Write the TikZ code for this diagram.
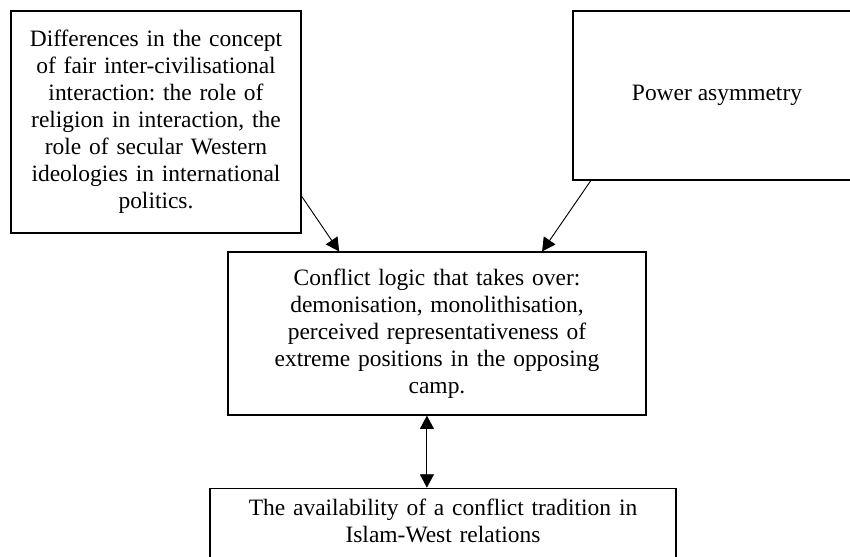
\documentclass[tikz,border=0pt]{standalone}
\usepackage{fontspec}
\setmainfont{Liberation Serif}
\usetikzlibrary{arrows.meta,positioning}
\frenchspacing

\begin{document}
\begin{tikzpicture}[x=0.75pt,y=-0.75pt,
  mybox/.style={draw,line width=0.9pt,align=center,inner xsep=4pt,font=\fontsize{17.6pt}{20.25pt}\selectfont},
  myarrow/.style={line width=0.7pt,-{Triangle[length=10pt,width=10.5pt]}},
  mydarrow/.style={line width=0.7pt,{Triangle[length=10pt,width=10.5pt]}-{Triangle[length=10pt,width=10.5pt]}}
]
\useasboundingbox (0,0) rectangle (850,557);
\clip (0,0) rectangle (850,557);

\node[mybox,text width=209pt,minimum width=217.5pt,minimum height=166.5pt] at (156,122) (diff) {Differences in the concept\\ of fair inter-civilisational\\ interaction: the role of\\ religion in interaction, the\\ role of secular Western\\ ideologies in international\\ politics.};
\node[mybox,minimum width=216pt,minimum height=126.75pt] at (717,95.5) (power) {Power asymmetry};

\node[mybox,text width=305pt,minimum width=313.5pt,minimum height=122.25pt] at (437,333.5) (conflict) {Conflict logic that takes over:\\ demonisation, monolithisation,\\ perceived representativeness of\\ extreme positions in the opposing\\ camp.};
\node[mybox,below=54pt of conflict,xshift=4.5pt,text width=341pt,minimum width=349.5pt,inner ysep=8.2pt,text depth=60pt] (tradition) {The availability of a conflict tradition in\\ Islam-West relations};

\path[myarrow]
(diff.-27.35) edge (conflict.140.7)
(power.214.06) edge (conflict.38.73);

\path[mydarrow]
(conflict.263.7) edge (conflict.263.7 |- tradition.north);

\end{tikzpicture}
\end{document}
